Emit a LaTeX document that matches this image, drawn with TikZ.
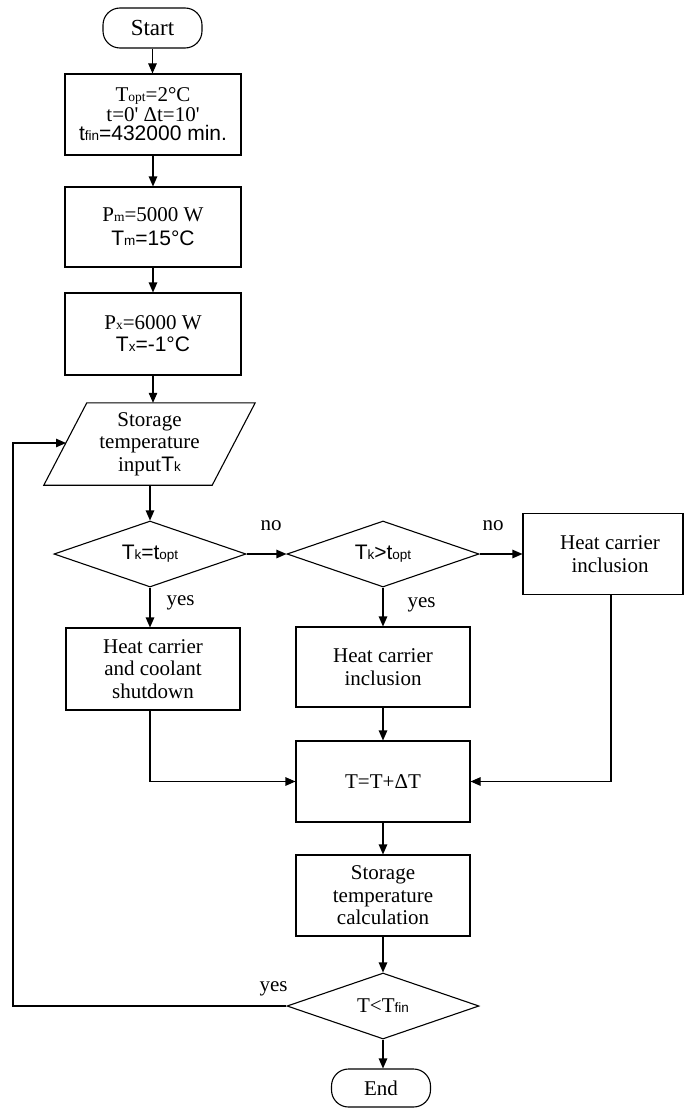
\documentclass[tikz,border=0pt]{standalone}
\usepackage{fontspec}
\setmainfont{Liberation Serif}
\setsansfont{Liberation Sans}
\usetikzlibrary{shapes.geometric,arrows.meta}
\newcommand\sm[1]{{\fontsize{13.5}{13.5}\selectfont #1}}
\begin{document}
\begin{tikzpicture}[x=1pt,y=-1pt,
  every node/.style={font=\fontsize{21}{22.5}\selectfont},
  proc/.style={draw,line width=1.1pt,rectangle,minimum width=176pt,minimum height=81pt,inner sep=0pt,align=center},
  term/.style={draw,line width=1.1pt,rectangle,rounded corners=17pt,minimum width=99pt,minimum height=40pt,inner sep=0pt},
  dec/.style={draw,line width=1.1pt,diamond,aspect=2.9,minimum width=192pt,minimum height=66pt,inner sep=0pt},
  lbl/.style={inner sep=0pt},
  arr/.style={line width=1.1pt,-{Triangle[length=10pt,width=8.5pt]}},
  ln/.style={line width=1.1pt}]
\useasboundingbox (0,0) rectangle (684,1108);

\node[term,font=\fontsize{23}{24}\selectfont] (start) at (152.5,28) {Start};
\node[proc,font=\fontsize{21}{19.5}\selectfont] (b1) at (153,114.5)
  {T\sm{opt}=2°C\\t=0\textquotesingle{} Δt=10\textquotesingle\\{\sffamily t\sm{fin}=432000 min.}};
\node[proc,minimum height=80pt,font=\fontsize{21}{24}\selectfont] (b2) at (153,227)
  {P\sm{m}=5000 W\\{\sffamily T\sm{m}=15°C}};
\node[proc,minimum height=82pt,font=\fontsize{21}{22}\selectfont] (b3) at (153,334)
  {P\sm{x}=6000 W\\{\sffamily T\sm{x}=-1°C}};

\node[rectangle,minimum width=211pt,minimum height=82pt,inner sep=0pt,align=center] (para) at (149.5,444)
  {Storage\\temperature\\input{\sffamily T\sm{k}}};
\draw[ln] ([xshift=43pt]para.north west) -- (para.north east) -- ([xshift=-43pt]para.south east) -- (para.south west) -- cycle;
\coordinate (paraleft) at (66,443);
\coordinate (loop) at (13,443);

\node[dec] (d1) at (150,554) {\sffamily T\sm{k}=t\sm{opt}};
\node[dec] (d2) at (383,554) {\sffamily T\sm{k}>t\sm{opt}};
\node[proc,minimum width=160pt] (b5) at (603,554) {\hspace*{14pt}Heat carrier\\\hspace*{14pt}inclusion};

\node[proc,minimum width=174pt,minimum height=82pt] (b4) at (153,669) {Heat carrier\\and coolant\\shutdown};
\node[proc,minimum width=174pt,minimum height=80pt] (b6) at (383,667) {Heat carrier\\inclusion};
\node[proc,minimum width=174pt] (b7) at (383,781.5) {T=T+ΔT};
\node[proc,minimum width=174pt] (b8) at (383,895.5) {Storage\\temperature\\calculation};
\node[dec] (d3) at (383,1006) {T<T{\sffamily\sm{fin}}};
\node[term,minimum height=38pt] (end) at (381,1088) {End};

\node[lbl] (no1) at (271,526) {no};
\node[lbl] (no2) at (493,526) {no};
\node[lbl] (yes1) at (180.5,603) {yes};
\node[lbl] (yes2) at (421.5,605) {yes};
\node[lbl] (yes3) at (273.5,989) {yes};

\draw[arr] (start.south) -- (start.south |- b1.north);
\draw[arr] (b1) -- (b2);
\draw[arr] (b2) -- (b3);
\draw[arr] (b3.south) -- (b3.south |- para.north);
\draw[arr] (d1.north |- para.south) -- (d1.north);
\draw[arr] (d1.east) -- (d2.west);
\draw[arr] (d2.east) -- (b5.west);
\draw[arr] (d1.south) -- (d1.south |- b4.north);
\draw[arr] (d2.south) -- (b6.north);
\draw[arr] (d1.south |- b4.south) |- (b7.west);
\draw[arr] ([xshift=8pt]b5.south) |- (b7.east);
\draw[arr] (b6) -- (b7);
\draw[arr] (b7) -- (b8);
\draw[arr] (b8) -- (d3);
\draw[arr] (d3.south) -- (d3.south |- end.north);
\draw[arr] (d3.west) -| (loop) -- (paraleft);
\end{tikzpicture}
\end{document}
